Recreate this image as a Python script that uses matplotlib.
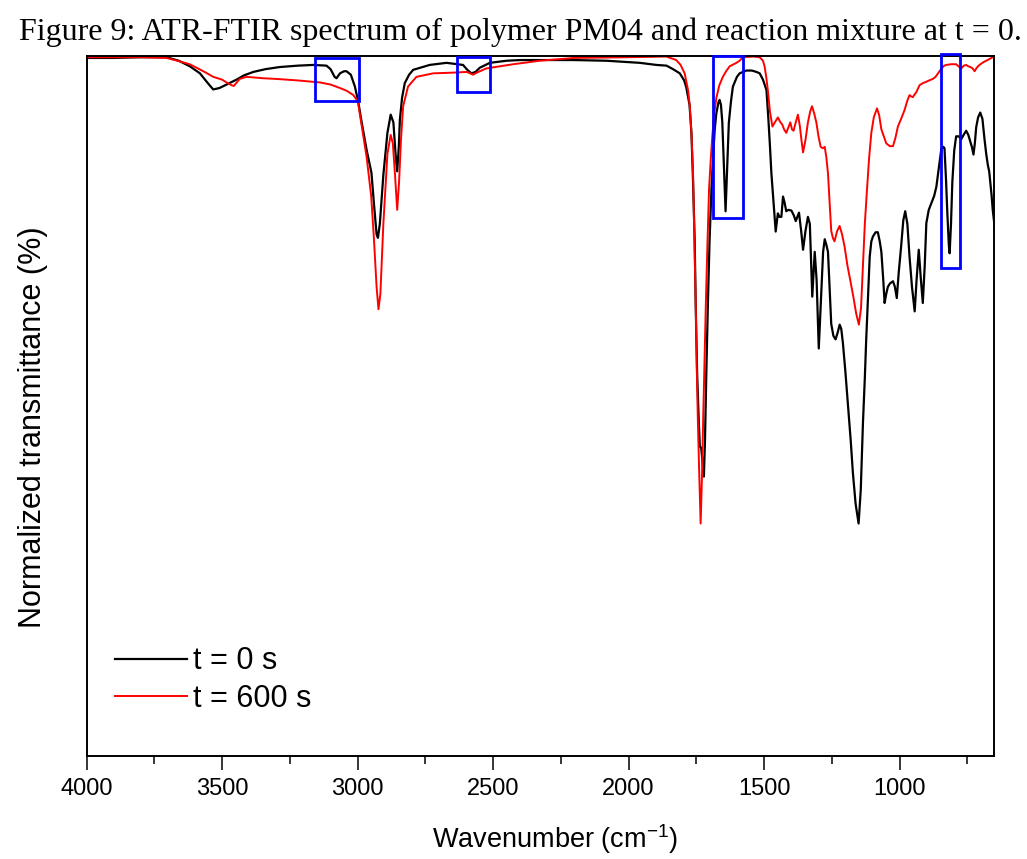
import matplotlib
matplotlib.use('Agg')
import matplotlib.pyplot as plt
from matplotlib.patches import Rectangle
from matplotlib.ticker import MultipleLocator

# t = 0 s spectrum (wavenumber in cm-1, normalized transmittance)
wn_t0 = [4000, 3900, 3800, 3705, 3660, 3619, 3582, 3555, 3533, 3510, 3484, 3447, 3420, 3385,
         3340, 3287, 3220, 3164, 3115, 3100, 3085, 3078, 3065, 3050, 3041, 3025, 3010, 2998,
         2985, 2967, 2949, 2940, 2930, 2925, 2918, 2905, 2890, 2878, 2868, 2860, 2854, 2848,
         2844, 2836, 2826, 2810, 2795, 2734, 2672, 2611, 2595, 2580, 2565, 2549, 2512, 2450,
         2400, 2328, 2205, 2082, 1959, 1897, 1860, 1836, 1811, 1795, 1787, 1775, 1768, 1762,
         1756, 1752, 1747, 1742, 1737, 1732, 1727, 1722, 1718, 1713, 1707, 1701, 1694, 1688,
         1682, 1676, 1668, 1664, 1659, 1654, 1648, 1642, 1636, 1630, 1622, 1615, 1600, 1590,
         1565, 1545, 1528, 1516, 1504, 1491, 1484, 1478, 1473, 1465, 1457, 1449, 1443, 1436,
         1430, 1424, 1418, 1410, 1399, 1390, 1383, 1377, 1371, 1363, 1356, 1347, 1338, 1331,
         1322, 1313, 1306, 1298, 1289, 1282, 1276, 1270, 1264, 1258, 1252, 1244, 1236, 1228,
         1221, 1215, 1209, 1200, 1190, 1180, 1172, 1162, 1151, 1143, 1135, 1128, 1123, 1116,
         1110, 1104, 1098, 1088, 1080, 1073, 1067, 1060, 1055, 1049, 1043, 1035, 1024, 1017,
         1010, 1003, 994, 986, 979, 971, 963, 954, 944, 937, 929, 921, 914, 907, 901, 892,
         883, 872, 864, 855, 846, 838, 834, 828, 824, 818, 815, 810, 805, 798, 791, 782, 772,
         765, 754, 746, 739, 733, 727, 722, 717, 710, 702, 694, 686, 680, 674, 669, 665, 660,
         656, 650]
tr_t0 = [0.997, 0.997, 0.998, 0.998, 0.993, 0.985, 0.975, 0.962, 0.952, 0.954, 0.959, 0.966, 0.972, 0.977,
         0.981, 0.984, 0.986, 0.987, 0.986, 0.981, 0.970, 0.968, 0.975, 0.978, 0.978, 0.973, 0.956, 0.935,
         0.905, 0.866, 0.833, 0.790, 0.745, 0.740, 0.760, 0.830, 0.890, 0.916, 0.905, 0.860, 0.835, 0.870,
         0.909, 0.940, 0.961, 0.973, 0.980, 0.987, 0.990, 0.987, 0.980, 0.975, 0.977, 0.983, 0.990, 0.993,
         0.994, 0.994, 0.994, 0.993, 0.990, 0.987, 0.986, 0.981, 0.975, 0.965, 0.955, 0.930, 0.890, 0.820,
         0.737, 0.640, 0.547, 0.490, 0.442, 0.440, 0.420, 0.399, 0.450, 0.547, 0.650, 0.737, 0.810, 0.856,
         0.895, 0.918, 0.934, 0.937, 0.930, 0.905, 0.840, 0.778, 0.840, 0.904, 0.935, 0.956, 0.970, 0.975,
         0.979, 0.979, 0.977, 0.975, 0.966, 0.951, 0.910, 0.870, 0.833, 0.790, 0.749, 0.775, 0.770, 0.770,
         0.799, 0.790, 0.778, 0.780, 0.779, 0.772, 0.764, 0.770, 0.776, 0.750, 0.723, 0.750, 0.770, 0.760,
         0.656, 0.720, 0.680, 0.582, 0.660, 0.720, 0.738, 0.730, 0.720, 0.670, 0.617, 0.600, 0.595, 0.605,
         0.616, 0.610, 0.590, 0.550, 0.499, 0.450, 0.404, 0.360, 0.332, 0.380, 0.475, 0.540, 0.594, 0.660,
         0.713, 0.735, 0.742, 0.748, 0.748, 0.735, 0.720, 0.680, 0.647, 0.660, 0.670, 0.675, 0.678, 0.670,
         0.654, 0.690, 0.728, 0.765, 0.778, 0.760, 0.713, 0.670, 0.635, 0.680, 0.723, 0.680, 0.647, 0.700, 0.761, 0.780,
         0.789, 0.800, 0.813, 0.840, 0.866, 0.870, 0.868, 0.820, 0.780, 0.730, 0.718, 0.760, 0.820, 0.865, 0.885, 0.885, 0.881,
         0.886, 0.893, 0.887, 0.878, 0.870, 0.859, 0.875, 0.898, 0.912, 0.919, 0.910, 0.880, 0.860, 0.844, 0.835, 0.820, 0.800,
         0.780, 0.760]

# t = 600 s spectrum
wn_t600 = [4000, 3900, 3800, 3705, 3656, 3620, 3594, 3560, 3533, 3500, 3484, 3465, 3457, 3448,
           3435, 3410, 3380, 3349, 3300, 3225, 3139, 3100, 3065, 3040, 3016, 3005, 2998, 2985,
           2967, 2950, 2940, 2930, 2923, 2916, 2905, 2890, 2878, 2870, 2862, 2854, 2847, 2840,
           2832, 2814, 2783, 2721, 2648, 2598, 2585, 2574, 2560, 2525, 2426, 2328, 2200, 2000,
           1861, 1824, 1808, 1793, 1780, 1774, 1768, 1762, 1757, 1752, 1748, 1744, 1739, 1734,
           1729, 1725, 1720, 1715, 1709, 1703, 1697, 1691, 1683, 1676, 1665, 1652, 1640, 1627,
           1602, 1590, 1578, 1540, 1516, 1504, 1498, 1492, 1486, 1478, 1469, 1460, 1449, 1441,
           1433, 1426, 1418, 1410, 1403, 1397, 1391, 1383, 1375, 1368, 1362, 1356, 1347, 1338,
           1330, 1323, 1315, 1307, 1299, 1291, 1283, 1276, 1270, 1264, 1258, 1252, 1246, 1240,
           1230, 1221, 1212, 1203, 1192, 1182, 1170, 1160, 1150, 1142, 1135, 1128, 1120, 1112,
           1104, 1095, 1083, 1075, 1067, 1058, 1049, 1036, 1024, 1015, 1006, 994, 981, 972, 963,
           957, 951, 944, 938, 926, 914, 901, 890, 877, 867, 858, 845, 835, 827, 810, 791, 782,
           772, 763, 754, 746, 738, 730, 723, 715, 705, 690, 675, 656, 650]
tr_t600 = [0.998, 0.998, 0.998, 0.997, 0.992, 0.988, 0.983, 0.976, 0.970, 0.966, 0.962, 0.958, 0.957, 0.961,
           0.967, 0.970, 0.969, 0.968, 0.967, 0.965, 0.962, 0.959, 0.954, 0.950, 0.944, 0.938, 0.932, 0.900,
           0.856, 0.800, 0.740, 0.670, 0.638, 0.660, 0.760, 0.860, 0.887, 0.875, 0.830, 0.780, 0.820, 0.880,
           0.928, 0.956, 0.970, 0.975, 0.976, 0.977, 0.975, 0.973, 0.976, 0.982, 0.988, 0.993, 0.997, 0.998,
           0.999, 0.994, 0.987, 0.975, 0.950, 0.928, 0.890, 0.832, 0.740, 0.642, 0.550, 0.475, 0.400, 0.332,
           0.400, 0.475, 0.560, 0.642, 0.730, 0.809, 0.850, 0.885, 0.920, 0.940, 0.958, 0.970, 0.978, 0.985,
           0.990, 0.993, 0.998, 0.999, 0.998, 0.993, 0.985, 0.970, 0.951, 0.920, 0.899, 0.905, 0.912, 0.906,
           0.902, 0.895, 0.890, 0.898, 0.905, 0.895, 0.893, 0.905, 0.916, 0.900, 0.880, 0.862, 0.880, 0.905,
           0.920, 0.928, 0.918, 0.905, 0.885, 0.870, 0.868, 0.870, 0.855, 0.832, 0.790, 0.750, 0.740, 0.735,
           0.750, 0.757, 0.745, 0.728, 0.700, 0.680, 0.655, 0.632, 0.616, 0.640, 0.700, 0.760, 0.809, 0.855,
           0.890, 0.912, 0.925, 0.915, 0.895, 0.885, 0.875, 0.871, 0.871, 0.883, 0.899, 0.910, 0.923, 0.935, 0.944,
           0.942, 0.941, 0.945, 0.948, 0.958, 0.961, 0.963, 0.965, 0.967, 0.970, 0.975, 0.982, 0.986, 0.987, 0.988, 0.988, 0.985,
           0.982, 0.986, 0.987, 0.985, 0.984, 0.982, 0.978, 0.983, 0.987, 0.991, 0.994, 0.998, 0.999]

# highlighted bands: (wavenumber high, wavenumber low, transmittance bottom, transmittance top)
boxes = [(3158, 2994, 0.935, 0.997),
         (2635, 2510, 0.948, 0.998),
         (1689, 1578, 0.769, 1.000),
         (846, 775, 0.697, 1.002)]

plt.rcParams['mathtext.fontset'] = 'custom'
plt.rcParams['mathtext.rm'] = 'Liberation Sans'

fig = plt.figure(figsize=(10.27, 8.59), dpi=100)
ax = fig.add_axes([0.0844, 0.120, 0.8838, 0.815])

ax.plot(wn_t0, tr_t0, color='black', lw=1.6, label='t = 0 s')
ax.plot(wn_t600, tr_t600, color='#ff0000', lw=1.4, label='t = 600 s')

for hi, lo, bot, top in boxes:
    ax.add_patch(Rectangle((lo, bot), hi - lo, top - bot, fill=False,
                           edgecolor='#0000ff', lw=2.0, clip_on=False, zorder=5))

ax.set_xlim(4000, 650)
ax.set_ylim(0, 1)
ax.xaxis.set_major_locator(MultipleLocator(500))
ax.xaxis.set_minor_locator(MultipleLocator(250))
ax.set_yticks([])
ax.tick_params(axis='x', which='major', direction='out', length=10, width=1.1, pad=6,
               labelsize=17)
ax.tick_params(axis='x', which='minor', direction='out', length=5.5, width=1.1)
ax.tick_params(axis='x', top=False)
for sp in ax.spines.values():
    sp.set_linewidth(1.4)
for lbl in ax.get_xticklabels():
    lbl.set_family('Liberation Sans')

ax.set_xlabel('Wavenumber (cm$^{\\mathregular{-1}}$)', fontsize=19.5, family='Liberation Sans',
              labelpad=16)
ax.xaxis.label.set_x(0.516)
ax.set_ylabel('Normalized transmittance (%)', fontsize=22, family='Liberation Sans', labelpad=28)
ax.yaxis.label.set_y(0.47)

leg = ax.legend(loc='lower left', bbox_to_anchor=(0.031, 0.060), frameon=False,
                prop={'family': 'Liberation Sans', 'size': 22}, handlelength=2.35,
                handletextpad=0.2, labelspacing=0.25, borderpad=0, borderaxespad=0)

fig.text(0.507, 0.963, 'Figure 9: ATR-FTIR spectrum of polymer PM04 and reaction mixture at t = 0.',
         ha='center', va='center', fontsize=23, family='Liberation Serif')

fig.savefig('out.png', dpi=100)
